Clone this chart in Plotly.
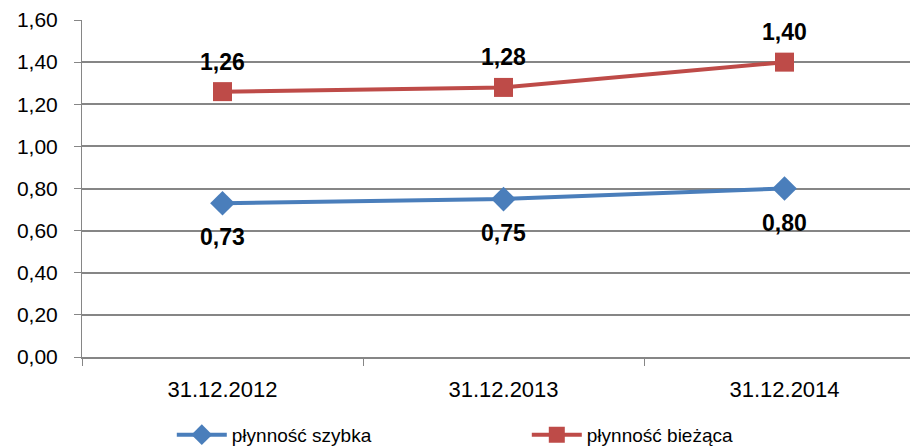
import plotly.graph_objects as go

categories = ["31.12.2012", "31.12.2013", "31.12.2014"]
szybka = [0.73, 0.75, 0.80]
biezaca = [1.26, 1.28, 1.40]
y_ticks = [0, 0.2, 0.4, 0.6, 0.8, 1.0, 1.2, 1.4, 1.6]
y_tick_labels = [f"{v:.2f}".replace(".", ",") for v in y_ticks]

def fmt(v):
    return f"{v:.2f}".replace(".", ",")

fig = go.Figure()
fig.add_trace(go.Scatter(
    x=categories, y=szybka, name="płynność szybka",
    mode="lines+markers",
    line=dict(color="#4A7EBB", width=4),
    marker=dict(symbol="diamond", size=19, color="#4A7EBB"),
))
fig.add_trace(go.Scatter(
    x=categories, y=biezaca, name="płynność bieżąca",
    mode="lines+markers",
    line=dict(color="#BE4B48", width=4),
    marker=dict(symbol="square", size=19, color="#BE4B48"),
))

label_font = dict(family="Liberation Sans", size=23, color="black", weight="bold")
for c, v in zip(categories, szybka):
    fig.add_annotation(x=c, y=v, text=fmt(v), showarrow=False, yshift=-34,
                       font=label_font)
for c, v in zip(categories, biezaca):
    fig.add_annotation(x=c, y=v, text=fmt(v), showarrow=False, yshift=30,
                       font=label_font)

fig.update_layout(
    width=910, height=440,
    margin=dict(l=74, r=0, t=12, b=91),
    plot_bgcolor="white", paper_bgcolor="white",
    font=dict(family="Liberation Sans", size=22, color="black"),
    showlegend=True,
    legend=dict(orientation="h", xref="container", yref="container",
                x=0.18, xanchor="left", y=0.03, yanchor="middle",
                font=dict(size=19), entrywidth=290, itemwidth=50, tracegroupgap=0),
)
fig.update_xaxes(
    type="category", range=[-0.5, 2.475], automargin=False,
    showline=True, linecolor="#868686", linewidth=2,
    ticks="outside", tickson="boundaries", ticklen=7, tickcolor="#868686",
    showgrid=False, ticklabelstandoff=12,
)
fig.update_yaxes(
    range=[0, 1.6001], tickvals=y_ticks, ticktext=y_tick_labels, automargin=False,
    showline=True, linecolor="#868686", linewidth=1,
    ticks="outside", ticklen=7, tickcolor="#868686",
    showgrid=True, gridcolor="#868686", gridwidth=1.5, zeroline=False,
    ticklabelstandoff=12, ticklabeloverflow="allow", tickfont=dict(size=21),
)

fig.write_html("out.html")
